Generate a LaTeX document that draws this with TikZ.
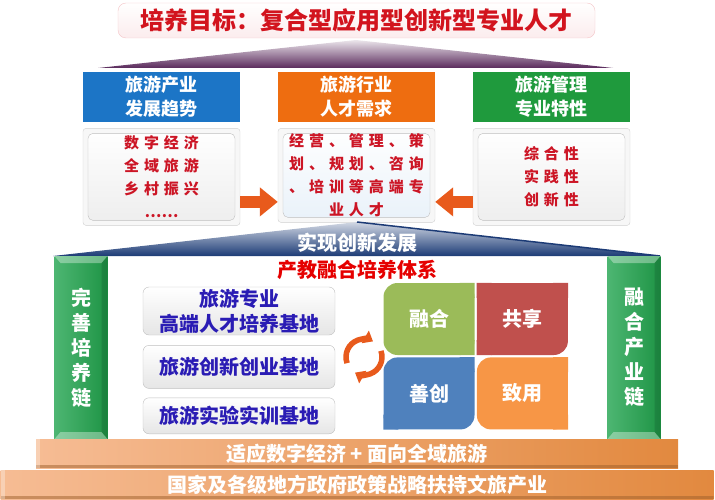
\documentclass[tikz,border=0pt]{standalone}
\usepackage{fontspec}
\setmainfont{Noto Sans CJK SC}
\usepackage{tikz}
\usetikzlibrary{arrows.meta,positioning,calc}
\definecolor{ttlred}{HTML}{D2141E}
\definecolor{txtred}{HTML}{CC1525}
\definecolor{hblue}{HTML}{1C75C6}
\definecolor{horange}{HTML}{EE6D10}
\definecolor{hgreen}{HTML}{1F9A3D}
\definecolor{arrorange}{HTML}{E85A1C}
\definecolor{roofpurple}{HTML}{5A2A5C}
\definecolor{roofblue}{HTML}{1C3B76}
\definecolor{basetxt}{HTML}{2A1CB4}
\definecolor{qgreen}{HTML}{9BBB59}
\definecolor{qred}{HTML}{C0504D}
\definecolor{qblue}{HTML}{4F81BD}
\definecolor{qorange}{HTML}{F79646}
\definecolor{barlight}{HTML}{F6BC94}
\definecolor{bardark}{HTML}{E2893F}
\definecolor{pillarlight}{HTML}{4DB672}
\definecolor{pillardark}{HTML}{1E9445}
\tikzstyle{header}=[minimum width=157pt,minimum height=50pt,inner sep=0pt,text=white,align=center,font=\bfseries\fontsize{18}{24}\selectfont]
\tikzstyle{card}=[draw=black!18,fill=black!3,rounded corners=3pt,minimum width=157pt,inner sep=0pt,align=center,text=txtred,
  font=\bfseries\fontsize{15}{23}\selectfont\addfontfeatures{LetterSpace=33},
  path picture={\draw[black!25,top color=white,bottom color=black!7,rounded corners=5pt] ($(path picture bounding box.north west)+(5,5)$) rectangle ($(path picture bounding box.south east)+(-5,-5)$);}]
\tikzstyle{base}=[draw=black!25,rounded corners=6pt,top color=white,bottom color=black!10,minimum width=192pt,inner sep=0pt,align=center,text=basetxt,font=\bfseries\fontsize{20}{25}\selectfont]
\tikzstyle{quad}=[minimum width=91pt,minimum height=72pt,rounded corners=14pt,text=white,font=\bfseries\fontsize{20}{24}\selectfont]
\tikzstyle{pillar}=[minimum width=53pt,minimum height=183pt,inner sep=0pt,left color=pillarlight,right color=pillardark,align=center,text=white,font=\bfseries\fontsize{20}{25}\selectfont,
  path picture={\fill[white,opacity=.35] (path picture bounding box.north west) -- (path picture bounding box.north east) -- ++(-6,7) -- ($(path picture bounding box.north west)+(6,7)$) -- cycle;
    \fill[white,opacity=.35] (path picture bounding box.south west) -- (path picture bounding box.south east) -- ++(-6,-7) -- ($(path picture bounding box.south west)+(6,-7)$) -- cycle;
    \fill[black,opacity=.12] (path picture bounding box.north east) -- ++(-6,7) -- ($(path picture bounding box.south east)+(-6,-7)$) -- (path picture bounding box.south east) -- cycle;}]
\tikzstyle{bar}=[minimum height=29pt,inner sep=0pt,left color=barlight,right color=bardark,text=white,font=\bfseries\fontsize{20}{24}\selectfont,
  path picture={\fill[bardark!70!black,opacity=.5] ($(path picture bounding box.south west)+(0,-3)$) rectangle (path picture bounding box.south east);
    \fill[white,opacity=.3] (path picture bounding box.north west) rectangle ($(path picture bounding box.south west)+(4,0)$);}]
\tikzstyle{fat}=[line width=12pt,arrorange,-{Triangle[length=18pt,width=28pt]}]
\tikzstyle{turn}=[line width=5.5pt,arrorange,-{Triangle[length=9pt,width=14pt]}]

\begin{document}
\begin{tikzpicture}[x=1pt,y=-1pt]
\useasboundingbox (0,0) rectangle (715,500);
% upper roof and goal
\shade[top color=roofpurple!12,bottom color=roofpurple] (98,68) -- (356,40) -- (613,68) -- cycle;
\node[draw=ttlred!25,rounded corners=8pt,top color=white,bottom color=ttlred!8,minimum width=477pt,minimum height=35pt,inner sep=0pt,text=ttlred,font=\bfseries\fontsize{24}{28}\selectfont] (goal) at (356.5,20.5) {培养目标：复合型应用型创新型专业人才};
% three columns
\node[header,fill=hblue] (trend) at (161.5,97) {旅游产业\\发展趋势};
\node[header,fill=horange] (need) at (356.5,97) {旅游行业\\人才需求};
\node[header,fill=hgreen] (trait) at (551.5,97) {旅游管理\\专业特性};
\node[card,minimum height=97pt,below=6pt of trend] (trendc) {数字经济\\全域旅游\\乡村振兴\\{\addfontfeatures{LetterSpace=0}……}};
\node[card,minimum height=94pt,below=6pt of need,path picture={\draw[black!25,top color=white,bottom color=hblue!10,rounded corners=5pt] ($(path picture bounding box.north west)+(5,5)$) rectangle ($(path picture bounding box.south east)+(-5,-5)$);}] (needc) {经营、管理、策\\划、规划、咨询\\、培训等高端专\\业人才};
\node[card,minimum height=97pt,below=6pt of trait] (traitc) {综合性\\实践性\\创新性};
\coordinate (la) at ([yshift=-25pt]trendc.east);
\coordinate (ra) at ([yshift=-25pt]traitc.west);
\draw[fat] (la) -- (la -| needc.west);
\draw[fat] (ra) -- (ra -| needc.east);
% lower roof
\shade[top color=roofblue!20,bottom color=roofblue] (53,256) -- (357,222) -- (660,256) -- cycle;
\draw[roofblue,line width=1.5pt] (357,222) -- (660,256);
\node[text=white,font=\bfseries\fontsize{20}{24}\selectfont] (dev) at (357,243) {实现创新发展};
\node[text=red!90!black,font=\bfseries\fontsize{20}{24}\selectfont] (sys) at (357,270) {产教融合培养体系};
% pillars
\node[pillar] (chainL) at (81,347.5) {完\\善\\培\\养\\链};
\node[pillar] (chainR) at (634,347.5) {融\\合\\产\\业\\链};
% bases
\node[base,minimum height=48pt] (hub) at (239,311) {旅游专业\\高端人才培养基地};
\node[base,minimum height=43pt,below=10pt of hub] (startup) {旅游创新创业基地};
\node[base,minimum height=36pt,below=9pt of startup] (lab) {旅游实验实训基地};
% cycle
\coordinate (cyc) at (364,357);
\draw[turn] ([shift={(160:18)}]cyc) arc[start angle=160,end angle=300,radius=18];
\draw[turn] ([shift={(340:18)}]cyc) arc[start angle=340,end angle=480,radius=18];
% four parts
\node[quad,fill=qgreen] (fuse) at (429,319) {融合};
\node[quad,fill=qred,right=2pt of fuse] (share) {共享};
\node[quad,fill=qblue,below=2pt of fuse] (create) {善创};
\node[quad,fill=qorange,right=2pt of create] (apply) {致用};
\fill[qgreen] (fuse.north east) rectangle ++(-15,15) (fuse.south east) rectangle ++(-15,-15);
\fill[qred] (share.north west) rectangle ++(15,15) (share.north east) rectangle ++(-15,15) (share.south west) rectangle ++(15,-15);
\fill[qblue] (create.north east) rectangle ++(-15,15) (create.south west) rectangle ++(15,-15);
\fill[qorange] (apply.north east) rectangle ++(-15,15) (apply.south east) rectangle ++(-15,-15);
% steps
\node[bar,minimum width=642pt] (adapt) at (357,453.5) {适应数字经济 + 面向全域旅游};
\node[bar,minimum width=713pt,below=2pt of adapt] (policy) {国家及各级地方政府政策战略扶持文旅产业};
\end{tikzpicture}
\end{document}
